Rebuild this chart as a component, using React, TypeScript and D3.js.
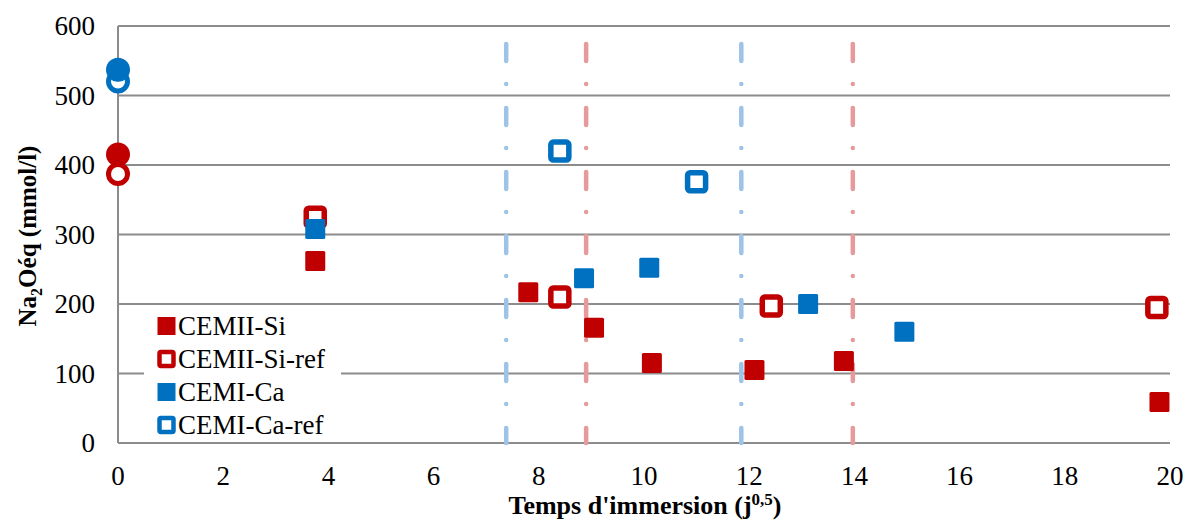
import React from "react";
import * as d3 from "d3";

const cemiiSiX = [3.75, 7.8, 9.05, 10.15, 12.1, 13.8, 19.8];
const cemiiSiY = [262, 217, 166, 115, 105, 118, 59];
const cemiiSiRefX = [3.75, 8.4, 12.42, 19.75];
const cemiiSiRefY = [325, 210, 197, 195];
const cemiCaX = [3.75, 8.86, 10.1, 13.12, 14.95];
const cemiCaY = [308, 237, 252, 200, 160];
const cemiCaRefX = [8.4, 11.0];
const cemiCaRefY = [420, 376];
const circleFilledX = [0, 0];
const circleFilledY = [537, 415];
const circleHollowX = [0, 0];
const circleHollowY = [520, 387];
const circleColors = ["#0070C0", "#C00000"];
const vLinesX = [7.38, 8.9, 11.85, 13.97];
const vLinesColor = ["#9DC3E6", "#E69A9B", "#9DC3E6", "#E69A9B"];
const xTicks = [0, 2, 4, 6, 8, 10, 12, 14, 16, 18, 20];
const yTicks = [0, 100, 200, 300, 400, 500, 600];
const legendLabels = ["CEMII-Si", "CEMII-Si-ref", "CEMI-Ca", "CEMI-Ca-ref"];

const RED = "#C00000";
const BLUE = "#0070C0";
const FONT = "'Liberation Serif', 'Times New Roman', serif";

export default function App() {
  const W = 1192, H = 520;
  const x = d3.scaleLinear().domain([0, 20]).range([118, 1170]);
  const y = d3.scaleLinear().domain([0, 600]).range([443, 26]);
  const zip = (xs: number[], ys: number[]) => xs.map((v, i) => [v, ys[i]]);
  const S = 20;
  const filledSq = (pts: number[][], c: string, k: string) =>
    pts.map(([a, b], i) => (
      <rect key={k + i} x={x(a) - S / 2} y={y(b) - S / 2} width={S} height={S} fill={c} rx={1.5} />
    ));
  const hollowSq = (pts: number[][], c: string, k: string) =>
    pts.map(([a, b], i) => (
      <rect key={k + i} x={x(a) - 9} y={y(b) - 9} width={18} height={18} fill="#fff" stroke={c} strokeWidth={5.5} rx={2.5} />
    ));
  const legendMarkers = [
    (cx: number, cy: number) => <rect x={cx - 9} y={cy - 9} width={18} height={18} fill={RED} />,
    (cx: number, cy: number) => <rect x={cx - 7} y={cy - 7} width={14} height={14} fill="#fff" stroke={RED} strokeWidth={4.5} rx={1.5} />,
    (cx: number, cy: number) => <rect x={cx - 9} y={cy - 9} width={18} height={18} fill={BLUE} />,
    (cx: number, cy: number) => <rect x={cx - 7} y={cy - 7} width={14} height={14} fill="#fff" stroke={BLUE} strokeWidth={4.5} rx={1.5} />,
  ];
  return (
    <svg width={W} height={H} style={{ position: "absolute", left: 0, top: 0 }} fontFamily={FONT}>
      <rect width={W} height={H} fill="#fff" />
      {yTicks.map((t) => (
        <line key={"g" + t} x1={x(0)} x2={x(20)} y1={y(t)} y2={y(t)} stroke="#8c8c8c" strokeWidth={2} />
      ))}
      <line x1={x(0)} x2={x(0)} y1={y(0)} y2={y(600)} stroke="#8c8c8c" strokeWidth={2} />
      {vLinesX.map((v, i) => (
        <line key={"v" + i} x1={x(v)} x2={x(v)} y1={44} y2={y(0)} stroke={vLinesColor[i]} strokeWidth={4.5}
          strokeLinecap="round" strokeDasharray="17 23 0 24" />
      ))}
      {yTicks.map((t) => (
        <text key={"yt" + t} x={95} y={y(t)} dy="0.35em" textAnchor="end" fontSize={27}>{t}</text>
      ))}
      {xTicks.map((t) => (
        <text key={"xt" + t} x={x(t)} y={485} textAnchor="middle" fontSize={27}>{t}</text>
      ))}
      <text x={645} y={514} textAnchor="middle" fontSize={26} fontWeight="bold">
        Temps d'immersion (j<tspan dy={-9} fontSize={17}>0,5</tspan><tspan dy={9}>)</tspan>
      </text>
      <text transform="translate(36,236) rotate(-90)" textAnchor="middle" fontSize={25} fontWeight="bold">
        Na<tspan dy={6} fontSize={16}>2</tspan><tspan dy={-6}>Oéq (mmol/l)</tspan>
      </text>
      {hollowSq(zip(cemiiSiRefX, cemiiSiRefY), RED, "hr")}
      {filledSq(zip(cemiiSiX, cemiiSiY), RED, "fr")}
      {filledSq(zip(cemiCaX, cemiCaY), BLUE, "fb")}
      {hollowSq(zip(cemiCaRefX, cemiCaRefY), BLUE, "hb")}
      {circleHollowX.map((v, i) => (
        <circle key={"ch" + i} cx={x(v)} cy={y(circleHollowY[i])} r={9.5} fill="#fff" stroke={circleColors[i]} strokeWidth={5} />
      ))}
      {circleFilledX.map((v, i) => (
        <circle key={"cf" + i} cx={x(v)} cy={y(circleFilledY[i])} r={12} fill={circleColors[i]} />
      ))}
      <rect x={144} y={310} width={197} height={130} fill="#fff" />
      {legendLabels.map((l, i) => {
        const cy = 326 + i * 33;
        return (
          <g key={"l" + i}>
            {legendMarkers[i](166.5, cy)}
            <text x={178} y={cy} dy="0.35em" fontSize={27}>{l}</text>
          </g>
        );
      })}
    </svg>
  );
}
